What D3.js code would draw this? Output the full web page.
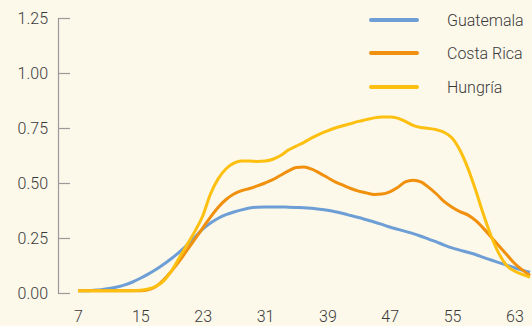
<!DOCTYPE html>
<html>
<head>
<meta charset="utf-8">
<script src="https://cdn.jsdelivr.net/npm/d3@7"></script>
<style>
  html, body { margin: 0; padding: 0; background: #fcf8ea; }
  svg { display: block; font-family: Roboto, "Noto Sans", sans-serif; font-weight: 300; }
</style>
</head>
<body>
<svg id="chart" width="532" height="326"></svg>
<script>
// Weeks (x axis) and weekly values per country
const weeks = d3.range(7, 66);

const guatemala = [
  0.010, 0.010, 0.012, 0.015, 0.020, 0.027, 0.037, 0.050, 0.067, 0.086,
  0.107, 0.131, 0.157, 0.186, 0.218, 0.254, 0.290, 0.318, 0.340, 0.356,
  0.368, 0.378, 0.386, 0.390, 0.391, 0.391, 0.391, 0.390, 0.389, 0.388,
  0.385, 0.381, 0.376, 0.369, 0.361, 0.352, 0.343, 0.333, 0.323, 0.312,
  0.300, 0.290, 0.280, 0.270, 0.258, 0.245, 0.232, 0.218, 0.205, 0.195,
  0.185, 0.175, 0.162, 0.150, 0.138, 0.127, 0.115, 0.104, 0.094
];

const costaRica = [
  0.010, 0.010, 0.010, 0.010, 0.010, 0.010, 0.010, 0.010, 0.010, 0.015,
  0.030, 0.060, 0.100, 0.145, 0.195, 0.245, 0.295, 0.345, 0.390, 0.425,
  0.450, 0.465, 0.475, 0.487, 0.500, 0.515, 0.535, 0.555, 0.570, 0.573,
  0.563, 0.545, 0.525, 0.505, 0.490, 0.475, 0.463, 0.455, 0.448, 0.450,
  0.460, 0.480, 0.505, 0.513, 0.505, 0.480, 0.450, 0.415, 0.390, 0.370,
  0.355, 0.330, 0.295, 0.255, 0.215, 0.175, 0.135, 0.105, 0.080
];

const hungria = [
  0.010, 0.010, 0.010, 0.010, 0.010, 0.010, 0.010, 0.010, 0.012, 0.018,
  0.030, 0.055, 0.100, 0.160, 0.220, 0.280, 0.350, 0.450, 0.520, 0.565,
  0.590, 0.600, 0.600, 0.598, 0.600, 0.608, 0.625, 0.650, 0.668, 0.685,
  0.705, 0.722, 0.737, 0.750, 0.760, 0.770, 0.780, 0.788, 0.796, 0.800,
  0.800, 0.795, 0.780, 0.762, 0.752, 0.748, 0.742, 0.730, 0.705, 0.650,
  0.570, 0.470, 0.360, 0.260, 0.180, 0.125, 0.100, 0.085, 0.072
];

const seriesNames = ["Guatemala", "Costa Rica", "Hungría"];
const seriesColors = ["#6d9fd6", "#f0900c", "#fdc010"];
const seriesValues = [guatemala, costaRica, hungria];

const xTicks = [7, 15, 23, 31, 39, 47, 55, 63];
const yTicks = [0, 0.25, 0.5, 0.75, 1.0, 1.25];

const svg = d3.select("#chart");
const margin = { left: 58, right: 2, top: 18, bottom: 33 };
const W = 532, H = 326;

const x = d3.scaleLinear().domain([7, 65]).range([78, 530]);
const y = d3.scaleLinear().domain([0, 1.25]).range([H - margin.bottom, margin.top]);

// Y axis: inward ticks, grey rule
const yAxis = svg.append("g")
  .attr("transform", `translate(${margin.left},0)`)
  .call(d3.axisLeft(y).tickValues(yTicks).tickFormat(d3.format(".2f"))
    .tickSizeInner(-12).tickSizeOuter(0).tickPadding(10));
yAxis.select(".domain").attr("stroke", "#9a9a9a").attr("stroke-width", 1.2);
yAxis.selectAll(".tick line").attr("stroke", "#9a9a9a").attr("stroke-width", 1.2);
yAxis.selectAll("text").attr("fill", "#3a3a3a").style("font-size", "16px")
  .style("font-family", "Roboto, sans-serif").style("font-weight", 300);

// X axis: labels only
const xAxis = svg.append("g")
  .attr("transform", `translate(0,${H - margin.bottom})`)
  .call(d3.axisBottom(x).tickValues(xTicks).tickSize(0).tickPadding(18));
xAxis.select(".domain").remove();
xAxis.selectAll("text").attr("fill", "#3a3a3a").style("font-size", "16px")
  .style("font-family", "Roboto, sans-serif").style("font-weight", 300);

// Lines
const line = d3.line()
  .x((d, i) => x(weeks[i]))
  .y(d => y(d))
  .curve(d3.curveMonotoneX);

seriesValues.forEach((vals, i) => {
  svg.append("path")
    .datum(vals)
    .attr("fill", "none")
    .attr("stroke", seriesColors[i])
    .attr("stroke-width", 3)
    .attr("stroke-linejoin", "round")
    .attr("d", line);
});

// Legend
const legend = svg.append("g");
const legendY = [20, 53, 87];
seriesNames.forEach((name, i) => {
  legend.append("line")
    .attr("x1", 371).attr("x2", 417)
    .attr("y1", legendY[i]).attr("y2", legendY[i])
    .attr("stroke", seriesColors[i])
    .attr("stroke-width", 4)
    .attr("stroke-linecap", "round");
  legend.append("text")
    .attr("x", 447).attr("y", legendY[i])
    .attr("dy", "0.35em")
    .attr("fill", "#3a3a3a")
    .style("font-size", "16px")
    .style("font-family", "Roboto, sans-serif")
    .style("font-weight", 300)
    .text(name);
});
</script>
</body>
</html>
